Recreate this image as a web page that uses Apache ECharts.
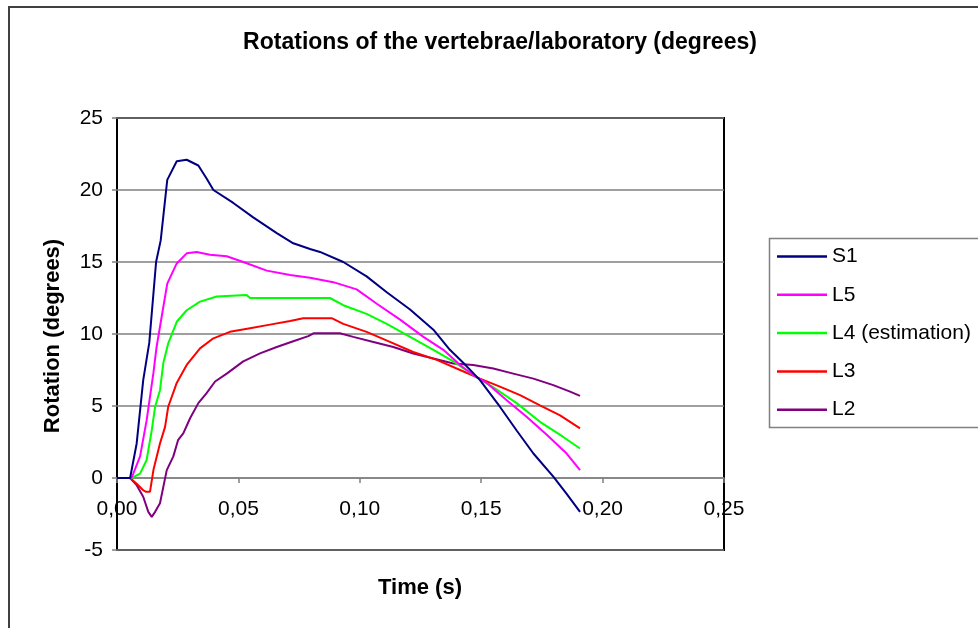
<!DOCTYPE html>
<html>
<head>
<meta charset="utf-8">
<script src="https://cdn.jsdelivr.net/npm/echarts@6/dist/echarts.min.js"></script>
<style>
html,body{margin:0;padding:0;background:#fff;}
#chart{width:978px;height:628px;}
</style>
</head>
<body>
<div id="chart"></div>
<script>
// Time (s) / rotation (degrees) pairs
const seriesNames = ['S1', 'L5', 'L4 (estimation)', 'L3', 'L2'];
const xTicks = [0, 0.05, 0.10, 0.15, 0.20, 0.25];
const yTicks = [-5, 0, 5, 10, 15, 20, 25];

const s1 = [[0,0],[0.0054,0],[0.0081,2.4],[0.0108,6.8],[0.0133,9.4],[0.0161,15.0],[0.018,16.5],[0.0207,20.7],[0.0246,22.0],[0.0287,22.1],[0.0335,21.7],[0.0369,20.8],[0.0397,20.0],[0.0479,19.1],[0.0561,18.1],[0.0658,17.0],[0.0726,16.3],[0.0795,15.9],[0.0836,15.7],[0.0932,15.0],[0.1028,14.0],[0.1111,12.9],[0.1207,11.7],[0.1303,10.3],[0.1371,8.9],[0.1426,8.0],[0.1495,6.8],[0.1577,4.95],[0.1646,3.3],[0.1715,1.7],[0.1797,0.1],[0.1852,-1.1],[0.1907,-2.35]];
const l5 = [[0,0],[0.006,0],[0.0095,1.5],[0.0122,4.0],[0.015,7.3],[0.0163,9.1],[0.0184,11.2],[0.0207,13.5],[0.0246,14.9],[0.0287,15.6],[0.0328,15.7],[0.0383,15.5],[0.0452,15.4],[0.052,15.0],[0.0617,14.4],[0.0713,14.1],[0.0795,13.9],[0.0891,13.6],[0.0987,13.1],[0.107,12.1],[0.1166,11.0],[0.1262,9.8],[0.1344,8.9],[0.1413,7.85],[0.1467,7.15],[0.1523,6.6],[0.1605,5.4],[0.1687,4.25],[0.177,3.0],[0.1852,1.7],[0.1907,0.55]];
const l4 = [[0,0],[0.006,0],[0.0095,0.3],[0.0122,1.25],[0.0143,3.3],[0.0157,4.95],[0.0177,6.1],[0.0191,8.0],[0.0211,9.35],[0.0246,10.85],[0.0287,11.65],[0.0342,12.25],[0.0411,12.6],[0.0534,12.7],[0.0548,12.5],[0.0877,12.5],[0.0932,12.0],[0.1028,11.4],[0.1111,10.7],[0.1207,9.8],[0.1303,8.9],[0.1385,8.1],[0.1467,7.15],[0.155,6.3],[0.1646,5.2],[0.1742,3.9],[0.1838,2.85],[0.1907,2.05]];
const l3 = [[0,0],[0.0054,0],[0.0081,-0.4],[0.0108,-0.85],[0.0118,-0.95],[0.0136,-0.95],[0.015,0.55],[0.0177,2.4],[0.0198,3.55],[0.0211,4.95],[0.0246,6.6],[0.0287,7.85],[0.0342,9.0],[0.0397,9.7],[0.0465,10.15],[0.0548,10.4],[0.063,10.65],[0.0713,10.9],[0.0767,11.1],[0.0884,11.1],[0.0932,10.7],[0.1028,10.15],[0.1124,9.45],[0.122,8.75],[0.1317,8.2],[0.1413,7.5],[0.1495,6.9],[0.1577,6.35],[0.166,5.75],[0.1742,5.05],[0.1825,4.35],[0.1907,3.45]];
const l2 = [[0,0],[0.0054,0],[0.0081,-0.5],[0.0108,-1.3],[0.0129,-2.35],[0.0143,-2.7],[0.0157,-2.35],[0.0177,-1.75],[0.0205,0.55],[0.0232,1.5],[0.0252,2.65],[0.0273,3.1],[0.0301,4.15],[0.0335,5.2],[0.0369,5.9],[0.0404,6.7],[0.0452,7.25],[0.052,8.1],[0.0589,8.65],[0.0658,9.1],[0.0726,9.5],[0.0788,9.85],[0.0809,10.05],[0.0918,10.05],[0.0973,9.8],[0.1056,9.45],[0.1138,9.1],[0.122,8.65],[0.1303,8.3],[0.1385,7.95],[0.1467,7.85],[0.155,7.6],[0.1632,7.25],[0.1715,6.9],[0.1797,6.45],[0.1866,6.0],[0.1907,5.7]];

const seriesData = [s1, l5, l4, l3, l2];
const colors = ['#000080', '#FF00FF', '#00FF00', '#FF0000', '#800080'];
const FONT = 'Arial, "Liberation Sans", sans-serif';

const GRID_TOP = 118, GRID_BOTTOM_Y = 550;
const yMin = yTicks[0], yMax = yTicks[yTicks.length - 1];
// shift the x axis so it sits on the zero line (labels follow it)
const zeroOffset = -(GRID_BOTTOM_Y - GRID_TOP) * (0 - yMin) / (yMax - yMin);

const chart = echarts.init(document.getElementById('chart'), null, {renderer: 'canvas'});
chart.setOption({
  animation: false,
  backgroundColor: '#fff',
  title: {
    text: 'Rotations of the vertebrae/laboratory (degrees)',
    left: 500, top: 31, textAlign: 'center', padding: 0,
    textStyle: {fontFamily: FONT, fontSize: 23, fontWeight: 'bold', color: '#000'}
  },
  graphic: [
    {type: 'rect', shape: {x: 9, y: 7, width: 1100, height: 800},
     style: {fill: 'none', stroke: '#404040', lineWidth: 2}, z: -10},
    {type: 'rect', shape: {x: 769.5, y: 238.5, width: 300, height: 189},
     style: {fill: '#fff', stroke: '#808080', lineWidth: 1.5}, z: -5},
    {type: 'text', x: 53, y: 336, rotation: Math.PI / 2,
     style: {text: 'Rotation (degrees)', font: 'bold 22px ' + FONT, fill: '#000', textAlign: 'center', textVerticalAlign: 'middle'}},
    {type: 'text', x: 420, y: 588,
     style: {text: 'Time (s)', font: 'bold 22px ' + FONT, fill: '#000', textAlign: 'center', textVerticalAlign: 'middle'}}
  ],
  legend: {
    orient: 'vertical', left: 777, top: 245.5, padding: 0,
    itemWidth: 50, itemHeight: 2.5, itemGap: 16.3, icon: 'rect',
    data: seriesNames,
    textStyle: {fontFamily: FONT, fontSize: 21, color: '#000', lineHeight: 22}
  },
  grid: {
    left: 117, top: GRID_TOP, right: 254, bottom: 628 - GRID_BOTTOM_Y,
    show: true, borderColor: '#000', borderWidth: 2, backgroundColor: 'transparent'
  },
  xAxis: {
    type: 'value', min: xTicks[0], max: xTicks[xTicks.length - 1], interval: 0.05,
    position: 'bottom', offset: zeroOffset,
    axisLine: {onZero: false, lineStyle: {color: '#808080', width: 1.5}},
    axisTick: {show: true, inside: false, length: 5, lineStyle: {color: '#808080', width: 1.5}},
    axisLabel: {
      margin: 21, fontFamily: FONT, fontSize: 21, color: '#000',
      showMinLabel: true, showMaxLabel: true,
      formatter: v => v.toFixed(2).replace('.', ',')
    },
    splitLine: {show: false}
  },
  yAxis: {
    type: 'value', min: yMin, max: yMax, interval: 5,
    axisLine: {show: false},
    axisTick: {show: true, length: 5, lineStyle: {color: '#808080', width: 1.5}},
    axisLabel: {margin: 14, fontFamily: FONT, fontSize: 21, color: '#000'},
    splitLine: {show: true, lineStyle: {color: '#808080', width: 1.5}}
  },
  series: seriesNames.map((n, i) => ({
    name: n, type: 'line', data: seriesData[i], symbol: 'none',
    lineStyle: {color: colors[i], width: 2}, itemStyle: {color: colors[i]},
    z: 10 - i
  }))
});
</script>
</body>
</html>
